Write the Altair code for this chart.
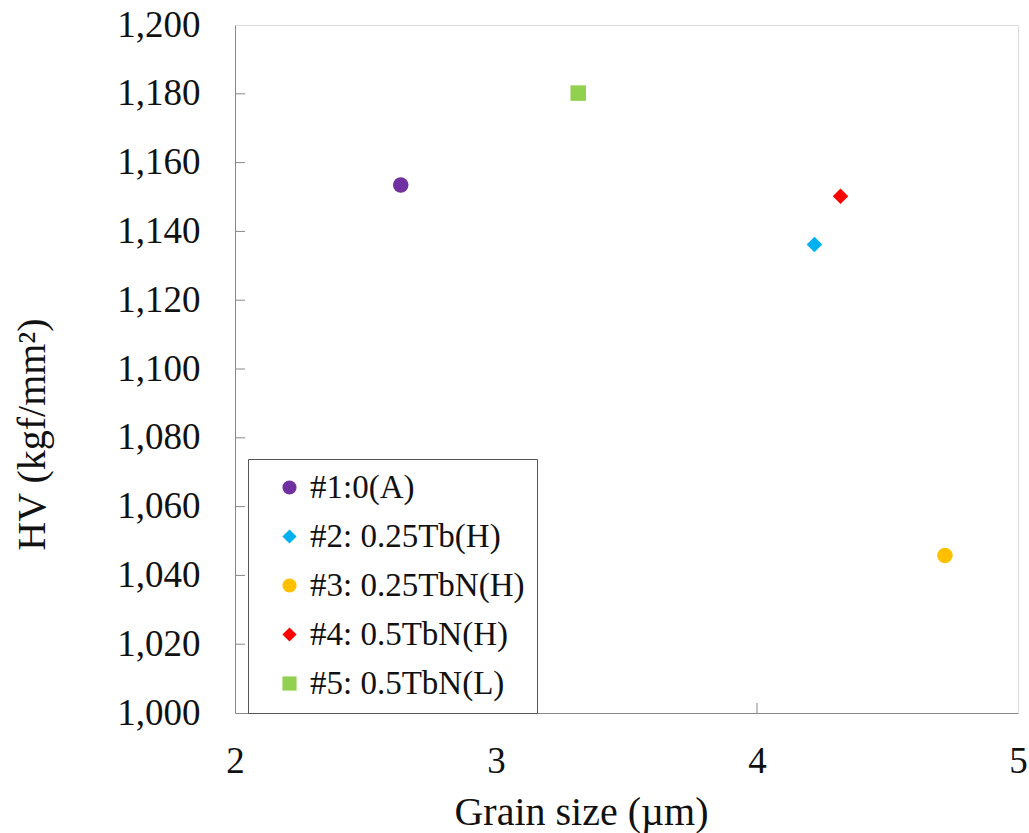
import altair as alt
import pandas as pd

labels = ["#1:0(A)", "#2: 0.25Tb(H)", "#3: 0.25TbN(H)", "#4: 0.5TbN(H)", "#5: 0.5TbN(L)"]
grain = [2.635, 4.22, 4.72, 4.32, 3.315]
hv = [1153.5, 1136.2, 1045.8, 1150.2, 1180.2]
colors = ["#7030A0", "#00B0F0", "#FFC000", "#FF0000", "#92D050"]
shapes = ["circle", "diamond", "circle", "diamond", "square"]
x_ticks = [2, 3, 4, 5]
y_ticks = [1000, 1020, 1040, 1060, 1080, 1100, 1120, 1140, 1160, 1180, 1200]

df = pd.DataFrame({"label": labels, "grain": grain, "hv": hv})
xt = pd.DataFrame({"t": x_ticks[1:-1]})
yt = pd.DataFrame({"t": y_ticks[1:-1]})

FONT = "Liberation Serif"
W, H = 783, 688

xscale = alt.Scale(domain=[2, 5], nice=False, zero=False)
yscale = alt.Scale(domain=[1000, 1200], nice=False, zero=False)

points = alt.Chart(df).mark_point(filled=True, opacity=1, size=240).encode(
    x=alt.X("grain:Q", scale=xscale, title="Grain size (µm)",
            axis=alt.Axis(values=x_ticks, tickSize=0, labelPadding=30, grid=False,
                          format="d",
                          domainColor="#888888", labelFont=FONT, labelFontSize=37,
                          labelColor="#111111", titleFont=FONT, titleFontSize=40,
                          titleFontWeight="normal", titleColor="#111111", titlePadding=13,
                          titleX=346, labelFlush=False)),
    y=alt.Y("hv:Q", scale=yscale, title="HV (kgf/mm²)",
            axis=alt.Axis(values=y_ticks, tickSize=0, labelPadding=35, grid=False,
                          domainColor="#888888", labelFont=FONT, labelFontSize=37,
                          labelColor="#111111", titleFont=FONT, titleFontSize=40,
                          titleFontWeight="normal", titleColor="#111111", titlePadding=64,
                          titleY=409, format=",d", labelFlush=False)),
    color=alt.Color("label:N", scale=alt.Scale(domain=labels, range=colors),
                    sort=labels, title=None,
                    legend=alt.Legend(orient="none", legendX=13, legendY=434,
                                      labelFont=FONT, labelFontSize=33, labelColor="#111111",
                                      strokeColor="#555555", padding=12, rowPadding=15,
                                      symbolSize=200, symbolOffset=13, labelOffset=4,
                                      fillColor="white", labelLimit=400)),
    shape=alt.Shape("label:N", scale=alt.Scale(domain=labels, range=shapes),
                    sort=labels, title=None, legend=None),
)

xticks = alt.Chart(xt).mark_rule(color="#888888", strokeWidth=1).encode(
    x=alt.X("t:Q", scale=xscale), y=alt.value(H - 10), y2=alt.value(H))
yticks = alt.Chart(yt).mark_rule(color="#888888", strokeWidth=1).encode(
    y=alt.Y("t:Q", scale=yscale), x=alt.value(0), x2=alt.value(10))

chart = alt.layer(xticks, yticks, points).properties(
    width=W, height=H,
    autosize=alt.AutoSizeParams(type="none"),
    padding={"left": 235, "top": 25, "right": 11, "bottom": 120},
).configure_view(stroke="#888888", strokeWidth=1.5).configure(background="white")

chart.save("out.html", embed_options={"renderer": "svg", "actions": False})
